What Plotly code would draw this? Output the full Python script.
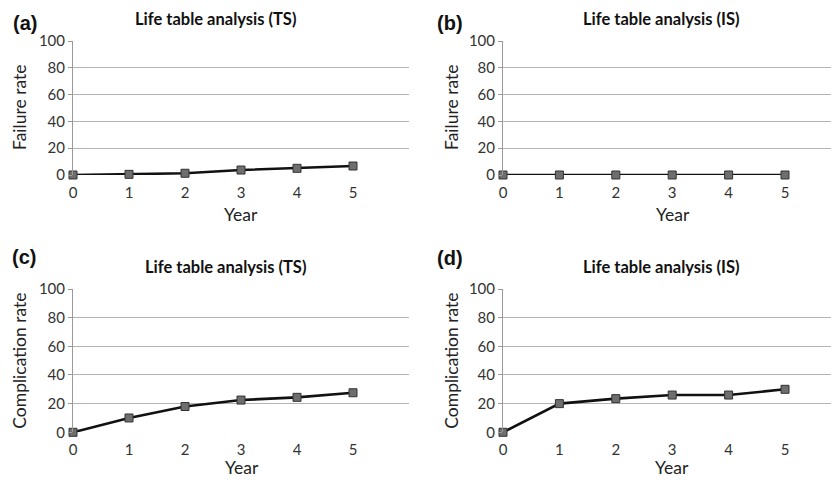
import plotly.graph_objects as go

years = [0, 1, 2, 3, 4, 5]
failure_ts = [0, 0.5, 1.3, 3.7, 5.0, 6.7]
failure_is = [0, 0, 0, 0, 0, 0]
complication_ts = [0, 10, 18, 22.5, 24.4, 27.6]
complication_is = [0, 20, 23.5, 26, 26, 30]

panel_labels = ["(a)", "(b)", "(c)", "(d)"]
panel_titles = ["Life table analysis (TS)", "Life table analysis (IS)",
                "Life table analysis (TS)", "Life table analysis (IS)"]
y_titles = ["Failure rate", "Failure rate", "Complication rate", "Complication rate"]
x_title = "Year"
y_ticks = [0, 20, 40, 60, 80, 100]

W, H = 831, 479
FONT = "Lato, 'Open Sans', sans-serif"

series = [failure_ts, failure_is, complication_ts, complication_is]
# pixel geometry: (x0, x1, y_top(100), y_bottom(0), xmax)
geo = [
    (73, 409, 41, 175, 6.0),
    (503, 831, 41, 175, (831 - 503) / 56.4),
    (73, 409, 289, 432.3, 6.0),
    (503, 831, 289, 432.3, (831 - 503) / 56.4),
]
title_pos = [(216, 18.5), (661, 18.5), (225, 267), (661, 267)]
label_pos = [(25, 23), (450, 23), (24, 257), (450, 258)]
ytitle_x = [20, 452, 20, 452]
xtitle_pos = [(241, 215), (673, 215), (242, 467), (672, 467)]

fig = go.Figure()
annotations = []
for i, vals in enumerate(series):
    n = "" if i == 0 else str(i + 1)
    x0, x1, yt, yb, xmax = geo[i]
    fig.add_trace(go.Scatter(
        x=years, y=vals, mode="lines+markers",
        line=dict(color="#111111", width=2.6),
        marker=dict(symbol="square", size=8, color="#6e6e6e",
                    line=dict(color="#333333", width=1)),
        cliponaxis=False, showlegend=False,
        xaxis="x" + n, yaxis="y" + n,
    ))
    fig.layout["xaxis" + n] = dict(
        domain=[x0 / W, min(x1 / W, 1.0)], range=[0, xmax],
        anchor="y" + n, tickvals=years, showgrid=False, zeroline=False,
        showline=False, ticks="outside", ticklen=4, tickcolor="rgba(0,0,0,0)",
        fixedrange=True, automargin=False,
        tickfont=dict(family=FONT, size=15, color="#333333"),
    )
    fig.layout["yaxis" + n] = dict(
        domain=[1 - yb / H, 1 - yt / H], range=[0, 100],
        anchor="x" + n, tickvals=y_ticks, showgrid=True,
        gridcolor="#b4b4b4", gridwidth=1, zeroline=False,
        showline=True, linecolor="#9a9a9a", linewidth=1,
        ticks="outside", ticklen=4, tickcolor="#9a9a9a",
        tickfont=dict(family=FONT, size=15, color="#333333"),
        fixedrange=True, automargin=False,
    )
    tx, ty = title_pos[i]
    annotations.append(dict(text="<b>" + panel_titles[i] + "</b>", x=tx / W, y=1 - ty / H,
                            xref="paper", yref="paper", showarrow=False,
                            xanchor="center", yanchor="middle",
                            font=dict(family=FONT, size=16.5, color="#111111")))
    lx, ly = label_pos[i]
    annotations.append(dict(text="<b>" + panel_labels[i] + "</b>", x=lx / W, y=1 - ly / H,
                            xref="paper", yref="paper", showarrow=False,
                            xanchor="center", yanchor="middle",
                            font=dict(family="Liberation Sans, Arial, sans-serif", size=20,
                                      color="#111111")))
    annotations.append(dict(text=y_titles[i], x=ytitle_x[i] / W, y=1 - ((yt + yb) / 2) / H,
                            xref="paper", yref="paper", showarrow=False, textangle=-90,
                            xanchor="center", yanchor="middle",
                            font=dict(family=FONT, size=17.5, color="#222222")))
    xx, xy = xtitle_pos[i]
    annotations.append(dict(text=x_title, x=xx / W, y=1 - xy / H,
                            xref="paper", yref="paper", showarrow=False,
                            xanchor="center", yanchor="middle",
                            font=dict(family=FONT, size=17.5, color="#222222")))

fig.update_layout(
    template="none",
    width=W, height=H, margin=dict(l=0, r=0, t=0, b=0),
    paper_bgcolor="white", plot_bgcolor="white",
    annotations=annotations,
)
fig.write_html("out.html", config={"displayModeBar": False},
               post_script="document.body.style.margin='0';document.body.style.overflow='hidden';")
